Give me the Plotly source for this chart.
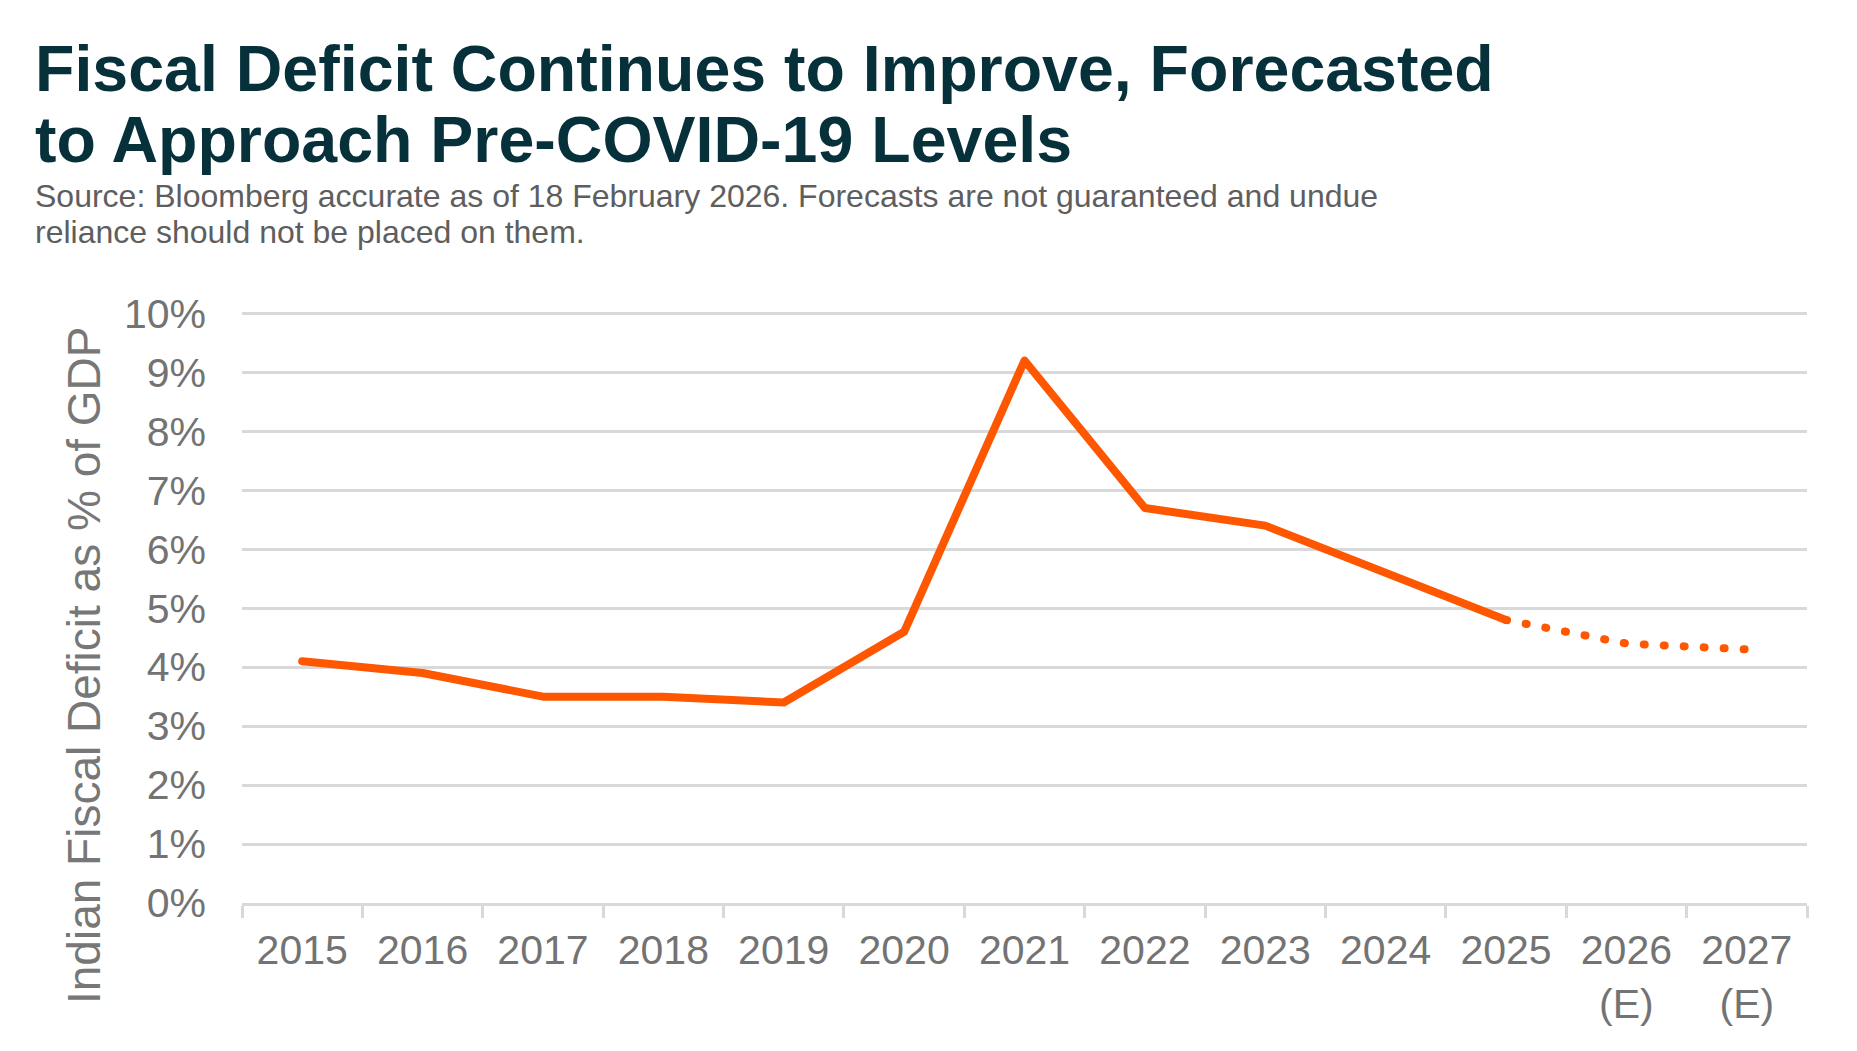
import plotly.graph_objects as go

# values (% of GDP)
years = ["2015", "2016", "2017", "2018", "2019", "2020", "2021",
         "2022", "2023", "2024", "2025"]
deficit = [4.1, 3.9, 3.5, 3.5, 3.4, 4.6, 9.2, 6.7, 6.4, 5.6, 4.8]

forecast_years = ["2025", "2026<br>(E)", "2027<br>(E)"]
forecast = [4.8, 4.4, 4.3]

all_years = years + forecast_years[1:]
y_ticks = [0, 1, 2, 3, 4, 5, 6, 7, 8, 9, 10]
y_labels = ["0%", "1%", "2%", "3%", "4%", "5%", "6%", "7%", "8%", "9%", "10%"]

title_lines = ["Fiscal Deficit Continues to Improve, Forecasted",
               "to Approach Pre-COVID-19 Levels"]
source_lines = ["Source: Bloomberg accurate as of 18 February 2026. Forecasts are not guaranteed and undue",
                "reliance should not be placed on them."]
y_title = "Indian Fiscal Deficit as % of GDP"

W, H = 1857, 1051
L, R, T, B = 242, 50, 311, 148
ORANGE = "#FF5600"
GRID = "#D9D9D9"
FONT = "Liberation Sans, Arial, sans-serif"


# helpers to place annotations using pixel positions
def px_x(x):
    return (x - L) / (W - L - R)


def px_y(y):
    return (H - B - y) / (H - T - B)


fig = go.Figure()
fig.add_trace(go.Scatter(x=years, y=deficit, mode="lines",
                         line=dict(color=ORANGE, width=8), hoverinfo="skip"))
fig.add_trace(go.Scatter(x=forecast_years, y=forecast, mode="lines",
                         line=dict(color=ORANGE, width=8, dash="1px,19px"), hoverinfo="skip"))

fig.update_layout(
    width=W, height=H,
    margin=dict(l=L, r=R, t=T, b=B),
    paper_bgcolor="white", plot_bgcolor="white",
    showlegend=False,
    font=dict(family=FONT),
)

fig.update_xaxes(type="category", categoryorder="array", categoryarray=all_years,
                 range=[-0.5, len(all_years) - 0.5],
                 tickson="boundaries", ticks="outside", ticklen=12, tickwidth=3, tickcolor=GRID,
                 showline=True, linecolor=GRID, linewidth=3, showgrid=False,
                 tickfont=dict(size=41, color="#737373"), ticklabelstandoff=9)
# top of range nudged up so plotly keeps the 10% gridline (it drops grids at the very edge)
fig.update_yaxes(range=[0, 10.04], tickvals=y_ticks, ticktext=y_labels, ticks="",
                 showgrid=True, gridcolor=GRID, gridwidth=3, zeroline=False,
                 tickfont=dict(size=41, color="#737373"), ticklabelstandoff=35)

# title, two lines set tight
for txt, yb in zip(title_lines, [91.5, 163]):
    fig.add_annotation(text="<b>" + txt + "</b>", xref="paper", yref="paper",
                       x=px_x(33), y=px_y(yb - 23), xanchor="left", yanchor="middle",
                       showarrow=False, font=dict(size=64.5, color="#06313B", family=FONT))

for txt, yb in zip(source_lines, [207, 243]):
    fig.add_annotation(text=txt, xref="paper", yref="paper",
                       x=px_x(33), y=px_y(yb - 11), xanchor="left", yanchor="middle",
                       showarrow=False, font=dict(size=32, color="#5E5E5E", family=FONT))

fig.add_annotation(text=y_title, xref="paper", yref="paper", textangle=-90,
                   x=px_x(84), y=px_y(666), xanchor="center", yanchor="middle",
                   showarrow=False, font=dict(size=46, color="#777777", family=FONT))

# page margin off, round caps for the line ends and the forecast dots
round_caps = """
document.body.style.margin = '0';
function roundCaps(){document.querySelectorAll('.scatterlayer .js-line').forEach(function(p){
  p.style.strokeLinecap='round'; p.style.strokeLinejoin='round';});}
roundCaps(); setTimeout(roundCaps, 30);
var gd = document.getElementById('{plot_id}'); if (gd && gd.on) { gd.on('plotly_afterplot', roundCaps); }
"""

fig.write_html("out.html", post_script=round_caps, config={"displayModeBar": False})
